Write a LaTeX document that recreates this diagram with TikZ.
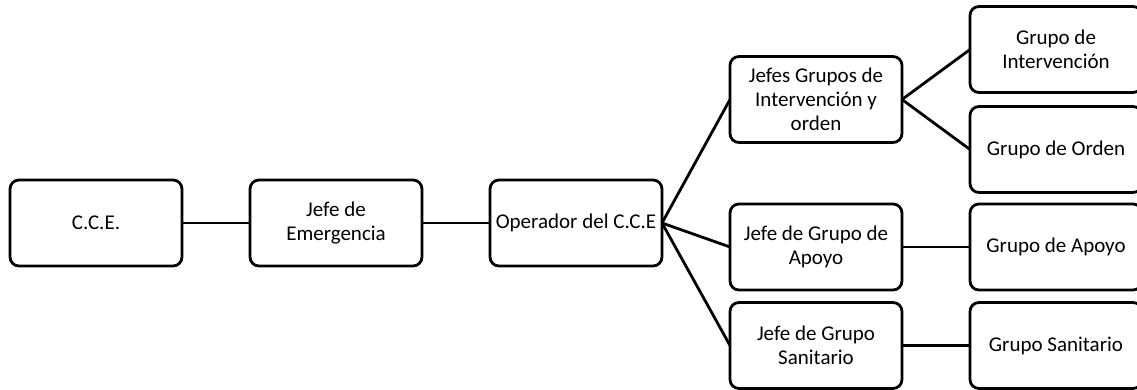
\documentclass[tikz,border=0pt]{standalone}
\usepackage{fontspec}
\setmainfont{Carlito}
\usetikzlibrary{positioning}
\tikzset{
    base/.style={draw, line width=2.8pt, align=center, font=\fontsize{21}{24}\selectfont, fill=white},
    box/.style={base, rectangle, rounded corners=9pt, minimum width=172pt, minimum height=86pt, inner sep=2pt, outer sep=0pt},
    link/.style={line width=2.8pt, draw=black}
}
\begin{document}
\begin{tikzpicture}[x=1pt, y=-1pt, node distance=68pt]
    \useasboundingbox (0,0) rectangle (1137,390);
    \clip (0,0) rectangle (1137,390);

    \node (cce) [box] at (96,223) {C.C.E.};
    \node (jefe) [box, right=of cce] {Jefe de\\Emergencia};
    \node (oper) [box, right=of jefe] {Operador del C.C.E};

    \node (jint) [box, right=of oper, yshift=123.5pt] {Jefes Grupos de\\Intervención y\\orden};
    \node (japo) [box, right=of oper, yshift=-24pt] {Jefe de Grupo de\\Apoyo};
    \node (jsan) [box, right=of oper, yshift=-122.5pt] {Jefe de Grupo\\Sanitario};

    \node (gint) [box, right=of jint, yshift=50pt] {Grupo de\\Intervención};
    \node (gord) [box, right=of jint, yshift=-50pt] {Grupo de Orden};
    \node (gapo) [box, right=of japo] {Grupo de Apoyo};
    \node (gsan) [box, right=of jsan] {Grupo Sanitario};

    \draw [link] (cce.east) -- (jefe.west);
    \draw [link] (jefe.east) -- (oper.west);
    \draw [link] (oper.east) -- (jint.west);
    \draw [link] (oper.east) -- (japo.west);
    \draw [link] (oper.east) -- (jsan.west);
    \draw [link] (jint.east) -- (gint.west);
    \draw [link] (jint.east) -- (gord.west);
    \draw [link] (japo.east) -- (gapo.west);
    \draw [link] (jsan.east) -- (gsan.west);
\end{tikzpicture}
\end{document}
